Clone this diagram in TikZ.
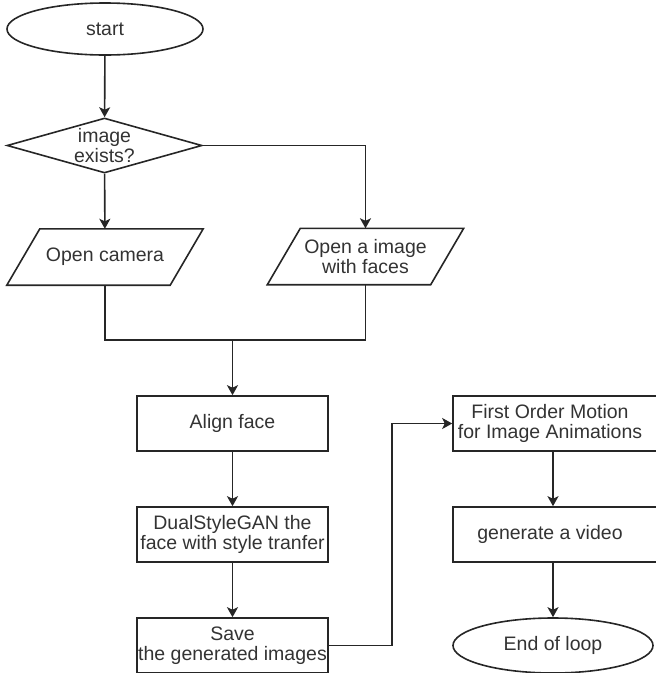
\documentclass[tikz,border=0pt]{standalone}
\usepackage{fontspec}
\setmainfont{Liberation Sans}
\usetikzlibrary{shapes.geometric}
\usetikzlibrary{arrows.meta}

\tikzset{
  flow/.style={line width=1.6pt, black!85},
  arrow/.style={flow, -{Stealth[length=10pt,width=11pt,inset=2.5pt]}},
  txt/.style={align=center, text=black!80, font=\fontsize{19.5}{20.5}\selectfont},
  terminal/.style={draw, flow, ellipse, inner sep=0pt, txt},
  decision/.style={draw, flow, diamond, inner sep=0pt},
  io/.style={rectangle, inner sep=0pt, minimum width=196pt, minimum height=56pt, txt},
  process/.style={draw, flow, rectangle, inner sep=0pt, minimum height=55pt, txt}
}

\begin{document}
\begin{tikzpicture}[x=1pt, y=-1pt]
\useasboundingbox (0,0) rectangle (656,673);

\node[terminal, minimum width=196pt, minimum height=52pt] (start) at (105,29) {start};
\node[decision, minimum width=195pt, minimum height=55pt] (cond) at (104.5,145.5) {};
\node[txt] (condtext) at (cond) {image\\exists?};
\node[io] (cam) at (105,257) {Open camera};
\node[io] (img) at (365.5,256.5) {Open a image\\with faces};
\node[process, minimum width=191pt] (align) at (232.5,423.5) {Align face};
\node[process, minimum width=191pt] (dual) at (232.5,534.5) {DualStyleGAN the\\face with style tranfer};
\node[process, minimum width=191pt] (save) at (232.5,645.5) {Save\\the generated images};
\node[process, minimum width=208pt] (fom) at (557,423.5) {\hspace*{-14pt}First Order Motion\\\hspace*{-14pt}for Image Animations};
\node[process, minimum width=208pt] (video) at (557,534.5) {\hspace*{-14pt}generate a video};
\node[terminal, minimum width=200pt, minimum height=55pt] (eol) at (553,645.5) {End of loop};

% parallelogram outlines
\foreach \n in {cam,img}
  \draw[flow] ([xshift=33pt]\n.north west) -- (\n.north east)
    -- ([xshift=-33pt]\n.south east) -- (\n.south west) -- cycle;

\coordinate (merge) at (232.5,340);

\draw[arrow] (start) -- (cond);
\draw[arrow] (cond) -- (cam);
\draw[arrow] (cond.east) -| (img.north);
\draw[flow] (cam.south) |- (merge) -| (img.south);
\draw[arrow] (merge) -- (align);
\draw[arrow] (align) -- (dual);
\draw[arrow] (dual) -- (save);
\draw[arrow] (save.east) -- ++(63,0) |- (fom.west);
\draw[arrow] (fom.south -| eol) -- (video.north -| eol);
\draw[arrow] (video.south -| eol) -- (eol);
\end{tikzpicture}
\end{document}
